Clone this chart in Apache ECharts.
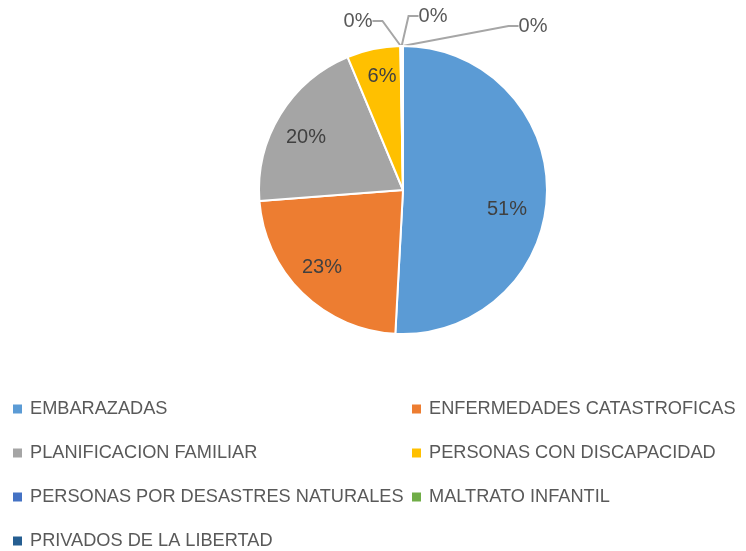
<!DOCTYPE html>
<html>
<head>
<meta charset="UTF-8">
<script src="https://cdn.jsdelivr.net/npm/echarts@6/dist/echarts.min.js"></script>
<style>html,body{margin:0;padding:0;background:#fff}#main{width:746px;height:551px}</style>
</head>
<body>
<div id="main"></div>
<script>
// datos
var categorias = ['EMBARAZADAS', 'ENFERMEDADES CATASTROFICAS', 'PLANIFICACION FAMILIAR',
    'PERSONAS CON DISCAPACIDAD', 'PERSONAS POR DESASTRES NATURALES', 'MALTRATO INFANTIL',
    'PRIVADOS DE LA LIBERTAD'];
var valores = [51, 23, 20, 6, 0.1, 0.1, 0.1];
var colores = ['#5B9BD5', '#ED7D31', '#A5A5A5', '#FFC000', '#4472C4', '#70AD47', '#255E91'];
// donde van las etiquetas de cada porcion (como las coloca Excel)
var posEtiquetas = [[507, 209], [322, 267], [306, 137], [382, 76], [358, 21], [433, 16], [533, 26]];

var cx = 403, cy = 190, radio = 144;
var myChart = echarts.init(document.getElementById('main'));

var datos = [];
for (var i = 0; i < categorias.length; i++) {
    var item = { name: categorias[i], value: valores[i], itemStyle: { color: colores[i] } };
    if (i >= 4) {
        item.label = { position: 'outside', color: '#595959' };
        item.labelLine = { show: true, length: 14, length2: 10 };
    }
    datos.push(item);
}

var estiloLeyenda = {
    orient: 'vertical',
    top: 399,
    height: 160,
    padding: 0,
    itemWidth: 9,
    itemHeight: 9,
    itemGap: 24,
    icon: 'rect',
    itemStyle: { borderWidth: 0 },
    textStyle: {
        fontSize: 18.2, lineHeight: 20, color: '#595959',
        fontFamily: 'Liberation Sans, Arial, sans-serif', padding: [0, 0, 0, 3]
    }
};

var option = {
    animation: false,
    legend: [
        Object.assign({ left: 13, data: [categorias[0], categorias[2], categorias[4], categorias[6]] }, estiloLeyenda),
        Object.assign({ left: 412, data: [categorias[1], categorias[3], categorias[5]] }, estiloLeyenda)
    ],
    series: [{
        type: 'pie',
        center: [cx, cy],
        radius: radio,
        startAngle: 90,
        clockwise: true,
        avoidLabelOverlap: false,
        itemStyle: { borderColor: '#fff', borderWidth: 2 },
        label: {
            show: true,
            position: 'inside',
            fontSize: 20,
            color: '#404040',
            fontFamily: 'Liberation Sans, Arial, sans-serif',
            formatter: function (p) { return Math.round(p.percent) + '%'; }
        },
        labelLine: { lineStyle: { color: '#A6A6A6', width: 2 } },
        labelLayout: function (p) {
            var pos = posEtiquetas[p.dataIndex];
            return { x: pos[0], y: pos[1], align: 'center', verticalAlign: 'middle' };
        },
        data: datos
    }]
};
myChart.setOption(option);
</script>
</body>
</html>
